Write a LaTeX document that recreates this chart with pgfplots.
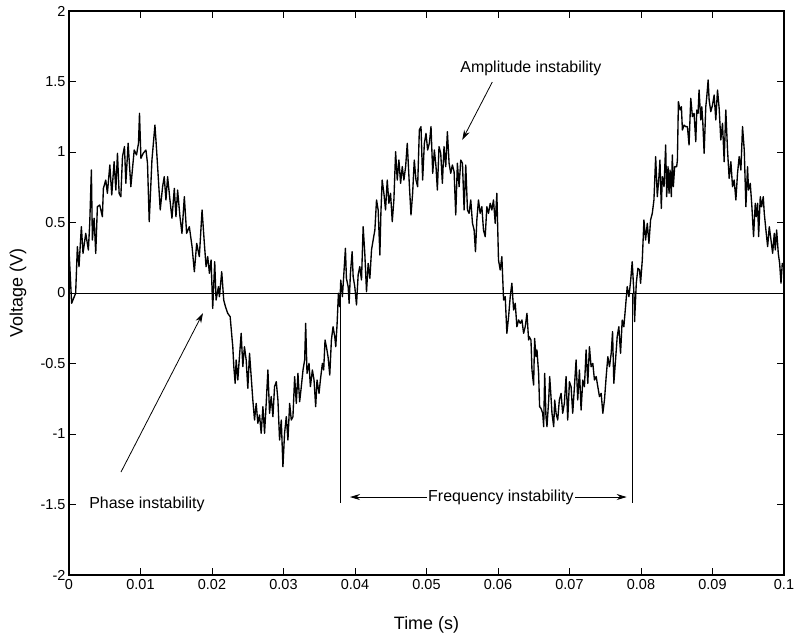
\documentclass[border=0pt]{standalone}
\usepackage{fontspec}
\setmainfont{Liberation Sans}
\usepackage{pgfplots}
\pgfplotsset{compat=1.18}
\usetikzlibrary{arrows.meta}
\pgfplotstableread{
x y
0.00000 0.305
0.00037 -0.073
0.00093 -0.002
0.00117 0.329
0.00140 0.187
0.00173 0.470
0.00196 0.281
0.00234 0.423
0.00271 0.305
0.00290 0.494
0.00313 0.872
0.00327 0.376
0.00351 0.530
0.00374 0.281
0.00397 0.612
0.00430 0.624
0.00467 0.541
0.00481 0.742
0.00514 0.801
0.00537 0.707
0.00571 0.908
0.00598 0.695
0.00631 0.931
0.00655 0.730
0.00678 0.991
0.00701 0.707
0.00725 0.683
0.00748 0.967
0.00776 1.038
0.00795 0.778
0.00827 1.062
0.00865 0.754
0.00912 1.014
0.00944 0.979
0.00972 1.062
0.00986 1.274
0.01006 0.955
0.01038 0.991
0.01076 1.014
0.01098 0.920
0.01122 0.506
0.01160 0.943
0.01202 1.191
0.01225 1.014
0.01248 0.825
0.01276 0.589
0.01309 0.754
0.01332 0.825
0.01356 0.660
0.01379 0.825
0.01412 0.660
0.01440 0.530
0.01473 0.742
0.01496 0.541
0.01519 0.730
0.01552 0.541
0.01580 0.423
0.01613 0.683
0.01645 0.423
0.01683 0.470
0.01721 0.329
0.01753 0.151
0.01786 0.352
0.01823 0.258
0.01861 0.589
0.01893 0.352
0.01917 0.187
0.01940 0.258
0.01964 0.140
0.01987 0.234
0.02010 -0.109
0.02038 0.222
0.02057 -0.050
0.02090 0.045
0.02104 -0.026
0.02136 0.151
0.02164 -0.050
0.02188 -0.097
0.02220 -0.144
0.02254 -0.168
0.02282 -0.333
0.02291 -0.381
0.02305 -0.522
0.02324 -0.641
0.02338 -0.475
0.02361 -0.617
0.02384 -0.452
0.02408 -0.286
0.02431 -0.522
0.02454 -0.381
0.02478 -0.475
0.02501 -0.676
0.02525 -0.428
0.02548 -0.593
0.02571 -0.759
0.02595 -0.901
0.02618 -0.783
0.02641 -0.924
0.02665 -0.865
0.02688 -0.995
0.02712 -0.806
0.02735 -0.995
0.02758 -0.783
0.02782 -0.546
0.02805 -0.853
0.02828 -0.735
0.02852 -0.877
0.02875 -0.664
0.02899 -0.629
0.02922 -0.759
0.02945 -1.043
0.02969 -0.901
0.02992 -1.232
0.03015 -0.995
0.03039 -0.877
0.03062 -1.043
0.03086 -0.783
0.03109 -0.901
0.03132 -0.877
0.03156 -0.593
0.03179 -0.783
0.03202 -0.570
0.03226 -0.771
0.03249 -0.664
0.03273 -0.546
0.03296 -0.475
0.03310 -0.215
0.03329 -0.570
0.03357 -0.499
0.03376 -0.664
0.03404 -0.546
0.03427 -0.617
0.03450 -0.806
0.03469 -0.617
0.03497 -0.712
0.03516 -0.617
0.03544 -0.499
0.03562 -0.546
0.03581 -0.333
0.03600 -0.381
0.03623 -0.452
0.03647 -0.582
0.03670 -0.333
0.03693 -0.239
0.03717 -0.310
0.03731 -0.381
0.03750 -0.215
0.03768 -0.002
0.03787 -0.097
0.03801 0.092
0.03824 -0.026
0.03843 0.128
0.03866 0.317
0.03880 0.104
0.03904 0.045
0.03918 -0.073
0.03936 0.139
0.03960 0.293
0.03974 0.116
0.03997 0.045
0.04021 -0.085
0.04044 0.128
0.04067 0.187
0.04091 0.092
0.04114 0.470
0.04137 0.281
0.04161 0.009
0.04184 0.210
0.04208 0.104
0.04231 0.305
0.04254 0.376
0.04278 0.447
0.04301 0.660
0.04324 0.589
0.04348 0.269
0.04362 0.565
0.04380 0.801
0.04404 0.707
0.04427 0.589
0.04451 0.801
0.04474 0.636
0.04497 0.707
0.04521 0.506
0.04544 0.660
0.04568 1.002
0.04591 0.801
0.04614 0.943
0.04638 0.778
0.04661 0.896
0.04684 0.801
0.04708 0.896
0.04731 1.062
0.04759 0.778
0.04783 0.553
0.04806 0.707
0.04829 0.943
0.04853 0.801
0.04876 0.754
0.04900 1.156
0.04923 1.180
0.04946 0.801
0.04970 1.062
0.04993 1.132
0.05016 1.014
0.05040 1.062
0.05063 1.180
0.05087 0.849
0.05110 1.014
0.05133 0.896
0.05152 0.730
0.05175 1.038
0.05199 0.991
0.05222 0.778
0.05245 1.038
0.05269 0.896
0.05292 1.144
0.05316 0.920
0.05339 0.849
0.05362 0.908
0.05386 0.860
0.05409 0.553
0.05432 0.920
0.05456 0.754
0.05479 0.943
0.05503 0.920
0.05526 0.589
0.05549 0.908
0.05573 0.589
0.05596 0.565
0.05619 0.660
0.05643 0.494
0.05666 0.447
0.05685 0.293
0.05704 0.518
0.05727 0.660
0.05750 0.565
0.05774 0.612
0.05797 0.447
0.05821 0.399
0.05844 0.612
0.05867 0.565
0.05891 0.636
0.05914 0.589
0.05937 0.660
0.05961 0.494
0.05984 0.707
0.06007 0.234
0.06031 0.163
0.06054 0.258
0.06078 -0.050
0.06101 -0.026
0.06124 -0.286
0.06148 -0.168
0.06171 -0.026
0.06194 0.069
0.06218 -0.121
0.06241 -0.073
0.06264 -0.239
0.06288 -0.191
0.06311 -0.215
0.06335 -0.191
0.06358 -0.286
0.06381 -0.239
0.06405 -0.144
0.06428 -0.333
0.06438 -0.310
0.06461 -0.333
0.06475 -0.546
0.06498 -0.653
0.06512 -0.322
0.06531 -0.452
0.06545 -0.404
0.06568 -0.570
0.06582 -0.806
0.06601 -0.818
0.06625 -0.853
0.06639 -0.948
0.06653 -0.570
0.06671 -0.877
0.06685 -0.948
0.06709 -0.759
0.06723 -0.593
0.06741 -0.735
0.06755 -0.853
0.06779 -0.948
0.06793 -0.759
0.06812 -0.853
0.06835 -0.901
0.06858 -0.759
0.06882 -0.712
0.06905 -0.853
0.06928 -0.783
0.06952 -0.593
0.06975 -0.901
0.06999 -0.629
0.07022 -0.664
0.07045 -0.853
0.07069 -0.664
0.07092 -0.475
0.07115 -0.759
0.07139 -0.546
0.07162 -0.830
0.07186 -0.617
0.07209 -0.664
0.07232 -0.404
0.07256 -0.641
0.07279 -0.381
0.07302 -0.523
0.07326 -0.499
0.07349 -0.617
0.07373 -0.593
0.07396 -0.664
0.07419 -0.735
0.07443 -0.712
0.07466 -0.853
0.07489 -0.759
0.07513 -0.593
0.07536 -0.452
0.07559 -0.523
0.07583 -0.428
0.07602 -0.274
0.07620 -0.641
0.07644 -0.475
0.07667 -0.310
0.07690 -0.239
0.07714 -0.428
0.07737 -0.192
0.07760 -0.239
0.07784 -0.097
0.07807 0.045
0.07831 -0.026
0.07854 0.080
0.07877 0.222
0.07901 -0.002
0.07910 -0.203
0.07934 0.069
0.07957 0.175
0.07980 0.163
0.07994 0.069
0.08018 0.234
0.08041 0.518
0.08064 0.376
0.08088 0.494
0.08111 0.352
0.08134 0.518
0.08158 0.565
0.08181 0.660
0.08205 0.967
0.08228 0.683
0.08251 0.825
0.08265 0.943
0.08284 0.600
0.08298 0.825
0.08322 0.754
0.08345 1.050
0.08359 0.683
0.08378 0.896
0.08392 0.707
0.08406 0.872
0.08424 0.683
0.08438 0.979
0.08452 0.754
0.08471 0.896
0.08499 0.896
0.08509 0.943
0.08523 1.357
0.08546 1.298
0.08565 1.321
0.08579 1.156
0.08602 1.191
0.08625 1.180
0.08649 1.180
0.08672 1.050
0.08696 1.381
0.08719 1.251
0.08742 1.274
0.08766 1.073
0.08780 1.298
0.08798 1.274
0.08812 1.440
0.08836 1.227
0.08850 1.321
0.08864 1.215
0.08883 0.991
0.08906 1.321
0.08920 1.392
0.08939 1.511
0.08953 1.369
0.08976 1.286
0.09000 1.333
0.09023 1.404
0.09046 1.227
0.09070 1.440
0.09093 1.310
0.09116 1.085
0.09140 1.203
0.09163 0.931
0.09186 1.298
0.09210 1.014
0.09233 0.813
0.09257 0.931
0.09280 0.754
0.09303 0.801
0.09327 0.660
0.09350 0.849
0.09373 0.967
0.09397 0.872
0.09420 1.180
0.09444 1.014
0.09467 0.612
0.09490 0.896
0.09504 0.730
0.09528 0.778
0.09551 0.612
0.09574 0.400
0.09598 0.636
0.09612 0.541
0.09631 0.636
0.09645 0.400
0.09668 0.683
0.09687 0.612
0.09710 0.683
0.09724 0.565
0.09747 0.447
0.09771 0.329
0.09794 0.470
0.09818 0.376
0.09841 0.281
0.09864 0.423
0.09878 0.305
0.09897 0.447
0.09920 0.281
0.09939 0.210
0.09958 0.069
0.09976 0.210
0.10000 0.187
}\signal
\begin{document}
\begin{tikzpicture}
\begin{axis}[
  name=ax,
  scale only axis,
  width=715bp, height=564bp,
  xmin=0, xmax=0.1, ymin=-2, ymax=2,
  xtick={0,0.01,0.02,0.03,0.04,0.05,0.06,0.07,0.08,0.09,0.1},
  xticklabels={0,0.01,0.02,0.03,0.04,0.05,0.06,0.07,0.08,0.09,0.1},
  ytick={-2,-1.5,-1,-0.5,0,0.5,1,1.5,2},
  yticklabels={-2,-1.5,-1,-0.5,0,0.5,1,1.5,2},
  tick align=inside,
  major tick length=7bp,
  tick style={black, line width=0.9bp},
  axis line style={black, line width=1.1bp},
  ticklabel style={font=\fontsize{14.5}{17}\selectfont},
  xticklabel style={yshift=-1bp},
  xlabel={Time (s)}, ylabel={Voltage (V)},
  label style={font=\fontsize{18}{21}\selectfont},
  xlabel style={at={(rel axis cs:0.5,-0.0887)}, anchor=center},
  ylabel style={at={(rel axis cs:-0.0713,0.5)}, anchor=center},
  clip=true,
]
\addplot[black, line width=0.9bp] coordinates {(0,0) (0.1,0)};
\addplot[black, line width=1.35bp, line join=round] table[x=x, y=y] {\signal};
\addplot[black, line width=0.8bp] coordinates {(0.0380,0) (0.0380,-1.49)};
\addplot[black, line width=0.8bp] coordinates {(0.0788,0) (0.0788,-1.49)};
\draw[black, line width=0.8bp, {Stealth[length=10bp,width=6bp]}-{Stealth[length=10bp,width=6bp]}] (axis cs:0.0393,-1.447) -- (axis cs:0.0780,-1.447);
\node[fill=white, inner sep=1.5bp, font=\fontsize{16}{19}\selectfont] at (axis cs:0.0604,-1.447) {Frequency instability};
\draw[black, line width=0.8bp, -{Stealth[length=10bp,width=6bp]}] (axis cs:0.0592,1.496) -- (axis cs:0.0550,1.085);
\node[font=\fontsize{16}{19}\selectfont] at (axis cs:0.0646,1.59) {Amplitude instability};
\draw[black, line width=0.8bp, -{Stealth[length=10bp,width=6bp]}] (axis cs:0.00727,-1.27) -- (axis cs:0.01874,-0.142);
\node[font=\fontsize{16}{19}\selectfont] at (axis cs:0.0109,-1.5) {Phase instability};
\end{axis}
\pgfresetboundingbox
\path ([shift={(-69bp,-65bp)}]ax.south west) rectangle ([shift={(10bp,11bp)}]ax.north east);
\end{tikzpicture}
\end{document}
